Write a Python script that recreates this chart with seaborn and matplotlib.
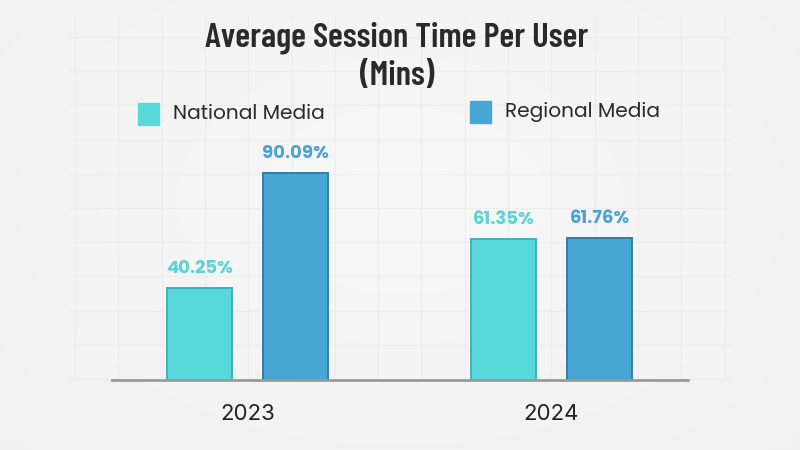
import matplotlib
matplotlib.use("Agg")
import matplotlib.pyplot as plt
import seaborn as sns
import numpy as np
import pandas as pd

years = ["2023", "2024"]
series = ["National Media", "Regional Media"]
national = [40.25, 61.35]
regional = [90.09, 61.76]
colors = ["#58d8da", "#47a6d4"]
edge_colors = ["#3fb3b6", "#2f7fa8"]
label_colors = ["#5cd3d6", "#4aa3d3"]

df = pd.DataFrame({
    "year": years * 2,
    "series": [series[0]] * 2 + [series[1]] * 2,
    "value": national + regional,
})

sns.set_theme(style="white")
BODY = ["Poppins", "Inter", "DejaVu Sans"]
TITLE = ["Barlow Condensed", "Roboto Condensed", "Oswald", "Open Sans Condensed", "DejaVu Sans"]
plt.rcParams["font.family"] = BODY

W, H = 800, 450
fig = plt.figure(figsize=(8, 4.5), dpi=100)
fig.patch.set_facecolor("#f3f3f3")

# background: soft gradient + faint grid texture
bg = fig.add_axes([0, 0, 1, 1], zorder=-10)
yy, xx = np.mgrid[0:H, 0:W]
r = np.sqrt(((xx - 400) / 560) ** 2 + ((yy - 200) / 360) ** 2)
img = 0.972 - 0.028 * np.clip(r, 0, 1.3)
bg.imshow(np.dstack([img, img, img]), extent=[0, W, H, 0], aspect="auto")
for gx in np.arange(75, 730, 43.3):
    bg.plot([gx, gx], [15, 380], color="#e6e6e6", lw=0.8, alpha=0.45)
for gy in np.arange(37, 380, 34.2):
    bg.plot([70, 730], [gy, gy], color="#e6e6e6", lw=0.8, alpha=0.45)
bg.set_xlim(0, W)
bg.set_ylim(H, 0)
bg.axis("off")

ax = fig.add_axes([112 / W, 1 - 380 / H, 576 / W, 240 / H])
ax.set_facecolor("none")
sns.barplot(data=df, x="year", y="value", hue="series", order=years,
            hue_order=series, palette=colors, width=0.632, gap=0.323,
            ax=ax, legend=False, saturation=1, linewidth=0)

ax.set_xlim(-0.446, 1.449)
ax.set_ylim(0, 104.5)

for i, cont in enumerate(ax.containers):
    for bar in cont:
        bar.set_edgecolor(edge_colors[i])
        bar.set_linewidth(1.4)
    ax.bar_label(cont, labels=[f"{v:.2f}%" for v in cont.datavalues],
                 padding=7, color=label_colors[i], fontsize=13,
                 fontweight="bold")

for s in ["top", "right", "left"]:
    ax.spines[s].set_visible(False)
ax.spines["bottom"].set_color("#9a9a9a")
ax.spines["bottom"].set_linewidth(2)
ax.set_yticks([])
ax.set_xlabel("")
ax.set_ylabel("")
ax.tick_params(axis="x", length=0, pad=17, labelsize=16, labelcolor="#222222")
for t in ax.get_xticklabels():
    t.set_family(["Inter", "DejaVu Sans"])

# title
fig.text(397 / W, 1 - 46 / H, "Average Session Time Per User",
         ha="center", va="baseline", fontsize=25, fontweight=600,
         color="#2a2a2a", family=TITLE)
fig.text(397 / W, 1 - 85 / H, "(Mins)",
         ha="center", va="baseline", fontsize=25, fontweight=600,
         color="#2a2a2a", family=TITLE)

# legend
leg_pos = [(138, 114), (470, 112)]
for (lx, ly), name, c in zip(leg_pos, series, colors):
    fig.patches.append(plt.Rectangle((lx / W, 1 - (ly + 11) / H), 21 / W, 22 / H,
                                     transform=fig.transFigure, color=c))
    fig.text((lx + 35) / W, 1 - ly / H, name, ha="left", va="center",
             fontsize=14.5, color="#2a2a2a")

fig.savefig("out.png", dpi=100, facecolor=fig.get_facecolor())
